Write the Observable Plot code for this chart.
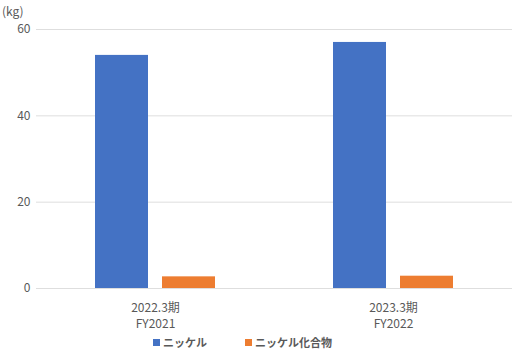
<!DOCTYPE html>
<html><head><meta charset="utf-8">
<script src="https://cdn.jsdelivr.net/npm/d3@7"></script>
<script src="https://cdn.jsdelivr.net/npm/@observablehq/plot@0.6"></script>
<style>
body{margin:0;background:#fff;font-family:"Noto Sans CJK JP","Noto Sans",sans-serif;}
#legend{display:flex;align-items:center;height:24px;padding-left:153px;gap:38px;font-size:11px;font-weight:bold;color:#595959;}
#legend .it{display:flex;align-items:center;gap:3px;}
#legend .sw{width:7px;height:7px;display:inline-block;}
</style>
</head><body>
<div id="chart"></div>
<div id="legend"></div>
<script>
const periods = ["2022.3期\nFY2021", "2023.3期\nFY2022"];
const series = ["ニッケル", "ニッケル化合物"];
const nickel = [54.0, 57.0];
const compound = [2.7, 2.85];
const yTicks = [0, 20, 40, 60];
const colors = ["#4472C4", "#ED7D31"];
const unit = "(kg)";

const data = [];
periods.forEach((p, i) => {
  data.push({period: p, series: series[0], value: nickel[i]});
  data.push({period: p, series: series[1], value: compound[i]});
});

const chart = Plot.plot({
  width: 518,
  height: 330,
  marginTop: 29,
  marginBottom: 42,
  marginLeft: 35,
  marginRight: 6,
  style: {fontFamily: '"Noto Sans CJK JP","Noto Sans",sans-serif', fontSize: "12px", color: "#595959", background: "#fff"},
  fx: {domain: periods, paddingInner: 0, paddingOuter: 0, label: null, axis: null},
  x: {domain: series, paddingInner: 0.206, paddingOuter: 0.857, axis: null},
  y: {domain: [0, 60], ticks: yTicks, label: null, axis: null},
  color: {domain: series, range: colors},
  marks: [
    Plot.ruleY(yTicks, {stroke: "#dedede", strokeWidth: 1}),
    Plot.barY(data, {fx: "period", x: "series", y: "value", fill: "series"}),
    Plot.axisY({ticks: yTicks, tickSize: 0, tickPadding: 6, fontSize: 12, fill: "#595959"}),
    Plot.axisFx({anchor: "bottom", tickSize: 0, tickPadding: 12, fontSize: 12, fill: "#595959", lineHeight: 1.36, label: null})
  ]
});
document.getElementById("chart").appendChild(chart);

// unit label
const svg = d3.select(chart);
svg.append("text").attr("x", 2).attr("y", 16).attr("fill", "#595959")
  .attr("text-anchor", "start").attr("font-size", 12).text(unit);

const leg = d3.select("#legend");
series.forEach((s, i) => {
  const it = leg.append("div").attr("class", "it");
  it.append("span").attr("class", "sw").style("background", colors[i]);
  it.append("span").text(s);
});
</script>
</body></html>
